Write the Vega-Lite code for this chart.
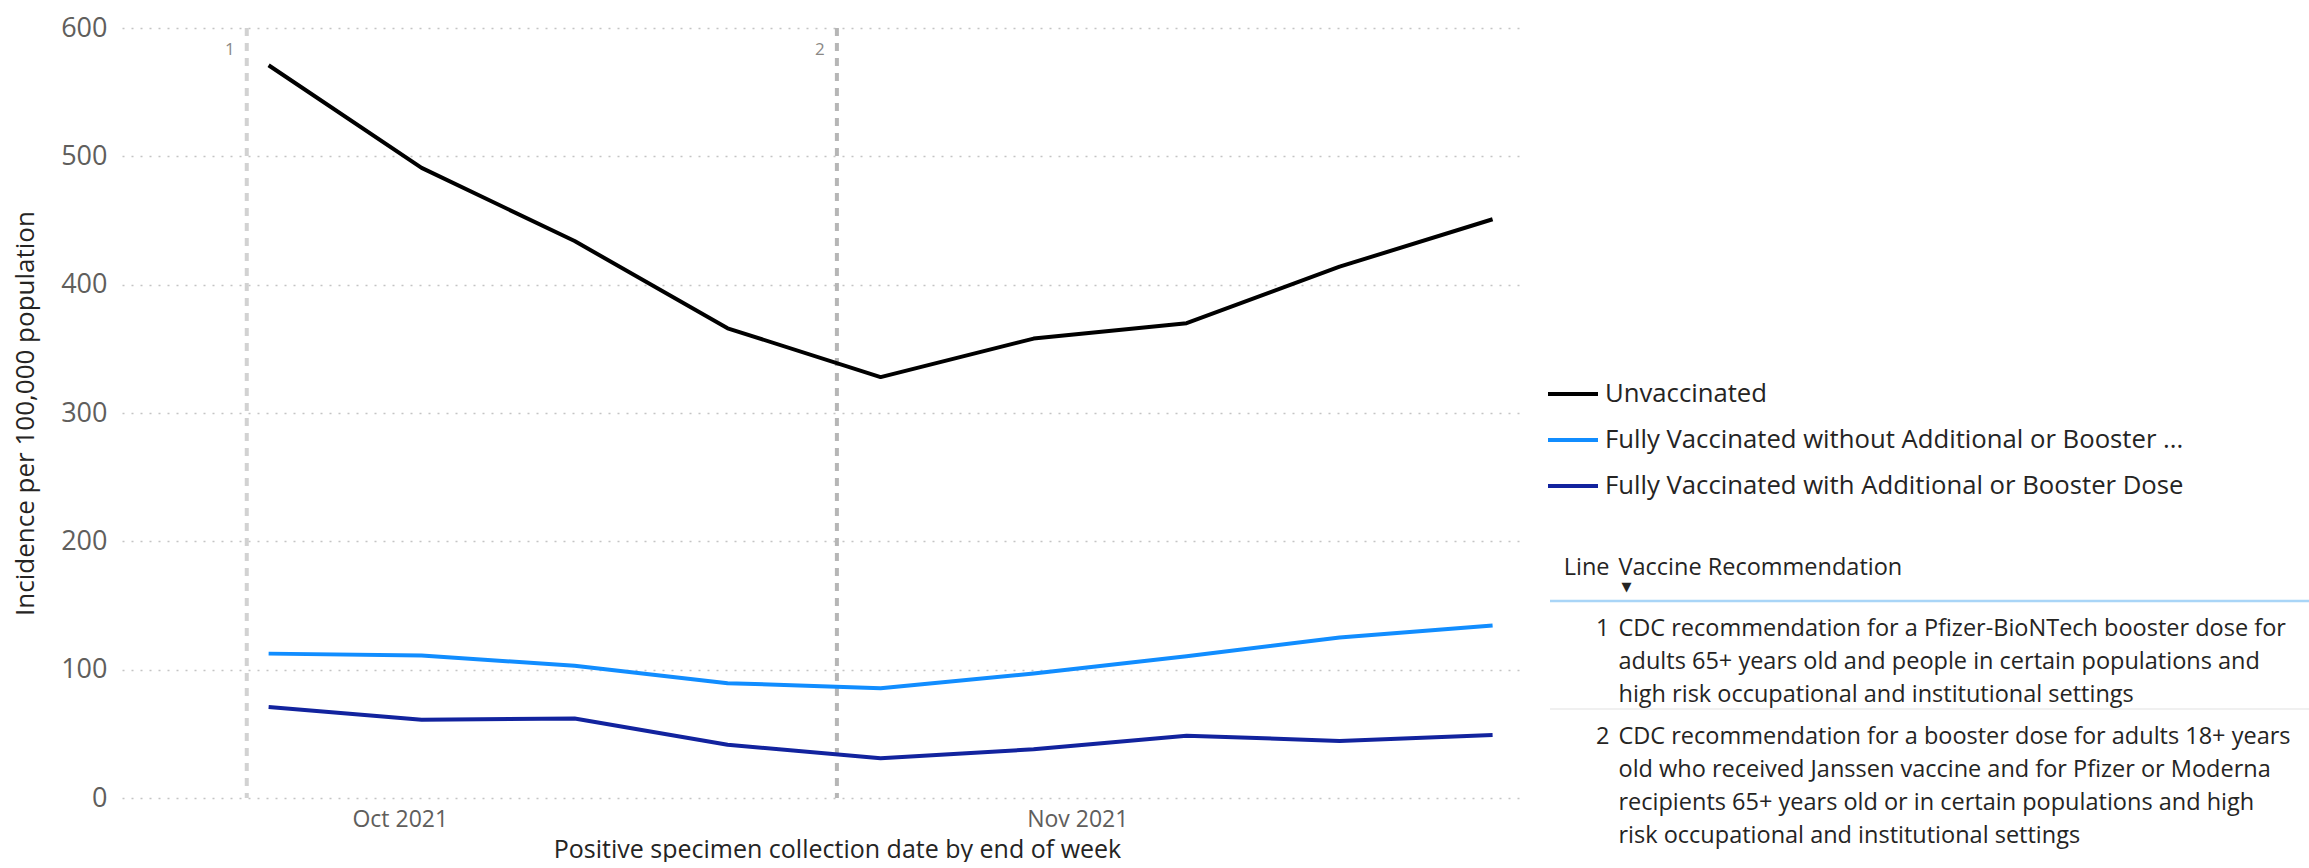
{
  "$schema": "https://vega.github.io/schema/vega-lite/v6.json",
  "padding": {"left": 12, "top": 14, "right": 0, "bottom": 0},
  "config": {
    "font": "Open Sans",
    "view": {"stroke": null},
    "concat": {"spacing": 29}
  },
  "datasets": {
    "incidence": [
      {"week": "2021-09-25", "status": "Unvaccinated", "rate": 571},
      {"week": "2021-10-02", "status": "Unvaccinated", "rate": 491},
      {"week": "2021-10-09", "status": "Unvaccinated", "rate": 434},
      {"week": "2021-10-16", "status": "Unvaccinated", "rate": 366},
      {"week": "2021-10-23", "status": "Unvaccinated", "rate": 328},
      {"week": "2021-10-30", "status": "Unvaccinated", "rate": 358},
      {"week": "2021-11-06", "status": "Unvaccinated", "rate": 370},
      {"week": "2021-11-13", "status": "Unvaccinated", "rate": 414},
      {"week": "2021-11-20", "status": "Unvaccinated", "rate": 451},
      {"week": "2021-09-25", "status": "Fully Vaccinated without Additional or Booster Dose", "rate": 112.5},
      {"week": "2021-10-02", "status": "Fully Vaccinated without Additional or Booster Dose", "rate": 111},
      {"week": "2021-10-09", "status": "Fully Vaccinated without Additional or Booster Dose", "rate": 103},
      {"week": "2021-10-16", "status": "Fully Vaccinated without Additional or Booster Dose", "rate": 89.5},
      {"week": "2021-10-23", "status": "Fully Vaccinated without Additional or Booster Dose", "rate": 85.5},
      {"week": "2021-10-30", "status": "Fully Vaccinated without Additional or Booster Dose", "rate": 97},
      {"week": "2021-11-06", "status": "Fully Vaccinated without Additional or Booster Dose", "rate": 110.5},
      {"week": "2021-11-13", "status": "Fully Vaccinated without Additional or Booster Dose", "rate": 125},
      {"week": "2021-11-20", "status": "Fully Vaccinated without Additional or Booster Dose", "rate": 134.5},
      {"week": "2021-09-25", "status": "Fully Vaccinated with Additional or Booster Dose", "rate": 71},
      {"week": "2021-10-02", "status": "Fully Vaccinated with Additional or Booster Dose", "rate": 61},
      {"week": "2021-10-09", "status": "Fully Vaccinated with Additional or Booster Dose", "rate": 62},
      {"week": "2021-10-16", "status": "Fully Vaccinated with Additional or Booster Dose", "rate": 41.5},
      {"week": "2021-10-23", "status": "Fully Vaccinated with Additional or Booster Dose", "rate": 31},
      {"week": "2021-10-30", "status": "Fully Vaccinated with Additional or Booster Dose", "rate": 38},
      {"week": "2021-11-06", "status": "Fully Vaccinated with Additional or Booster Dose", "rate": 48.5},
      {"week": "2021-11-13", "status": "Fully Vaccinated with Additional or Booster Dose", "rate": 44.5},
      {"week": "2021-11-20", "status": "Fully Vaccinated with Additional or Booster Dose", "rate": 49}
    ],
    "recommendations": [
      {"Line": 1, "date": "2021-09-24", "Vaccine Recommendation": "CDC recommendation for a Pfizer-BioNTech booster dose for\nadults 65+ years old and people in certain populations and\nhigh risk occupational and institutional settings"},
      {"Line": 2, "date": "2021-10-21", "Vaccine Recommendation": "CDC recommendation for a booster dose for adults 18+ years\nold who received Janssen vaccine and for Pfizer or Moderna\nrecipients 65+ years old or in certain populations and high\nrisk occupational and institutional settings"}
    ]
  },
  "resolve": {"legend": {"color": "independent"}},
  "hconcat": [
    {
      "width": 1397,
      "height": 770,
      "layer": [
        {
          "data": {"name": "recommendations"},
          "mark": {"type": "rule", "strokeDash": [8, 7], "strokeWidth": 4},
          "encoding": {
            "x": {"field": "date", "type": "temporal"},
            "stroke": {"condition": {"test": "datum.Line === 2", "value": "#b6b6b6"}, "value": "#d2d2d2"}
          }
        },
        {
          "data": {"name": "recommendations"},
          "mark": {"type": "text", "dx": -17, "dy": 22, "fontSize": 17, "color": "#8a8886", "align": "center", "baseline": "middle"},
          "encoding": {
            "x": {"field": "date", "type": "temporal"},
            "y": {"datum": 600, "type": "quantitative"},
            "text": {"field": "Line", "type": "nominal"}
          }
        },
        {
          "data": {"name": "incidence"},
          "mark": {"type": "line", "strokeWidth": 4, "strokeJoin": "round"},
          "encoding": {
            "x": {
              "field": "week",
              "type": "temporal",
              "scale": {
                "type": "utc",
                "domain": [
                  {"year": 2021, "month": 9, "date": 18, "hours": 7, "utc": true},
                  {"year": 2021, "month": 11, "date": 21, "hours": 5, "utc": true}
                ]
              },
              "axis": {
                "values": [
                  {"year": 2021, "month": 10, "date": 1, "utc": true},
                  {"year": 2021, "month": 11, "date": 1, "utc": true}
                ],
                "format": "%b %Y",
                "grid": false,
                "domain": false,
                "ticks": false,
                "labelFontSize": 23,
                "labelColor": "#605E5C",
                "labelPadding": 10,
                "title": "Positive specimen collection date by end of week",
                "titleFontSize": 25,
                "titleFontWeight": "normal",
                "titleColor": "#252423",
                "titlePadding": 6,
                "titleX": 715
              }
            },
            "y": {
              "field": "rate",
              "type": "quantitative",
              "scale": {"domain": [0, 600], "nice": false},
              "axis": {
                "values": [0, 100, 200, 300, 400, 500, 600],
                "grid": true,
                "gridDash": [2, 7],
                "gridColor": "#c4c4c4",
                "gridWidth": 1.5,
                "domain": false,
                "ticks": false,
                "labelFontSize": 27,
                "labelColor": "#605E5C",
                "labelPadding": 15,
                "title": "Incidence per 100,000 population",
                "titleFontSize": 26,
                "titleFontWeight": "normal",
                "titleColor": "#252423",
                "titlePadding": 22
              }
            },
            "color": {
              "field": "status",
              "type": "nominal",
              "scale": {
                "domain": ["Unvaccinated", "Fully Vaccinated without Additional or Booster Dose", "Fully Vaccinated with Additional or Booster Dose"],
                "range": ["#000000", "#118DFF", "#12239E"]
              },
              "legend": null
            }
          }
        }
      ]
    },
    {
      "width": 760,
      "height": 800,
      "layer": [
        {
          "data": {"name": "incidence"},
          "mark": {"type": "point", "opacity": 0},
          "encoding": {
            "color": {
              "field": "status",
              "type": "nominal",
              "legend": {
                "orient": "none",
                "legendX": 1,
                "legendY": 344,
                "title": null,
                "symbolType": "M-1.25,0H1.25",
                "symbolSize": 1600,
                "symbolStrokeWidth": 4,
                "symbolOpacity": 1,
                "labelFontSize": 25.7,
                "labelColor": "#252423",
                "labelLimit": 0,
                "labelOffset": 10,
                "rowPadding": 11,
                "labelExpr": "datum.label == 'Fully Vaccinated without Additional or Booster Dose' ? 'Fully Vaccinated without Additional or Booster ...' : datum.label"
              }
            }
          }
        },
        {
          "data": {"name": "recommendations"},
          "mark": {"type": "rule"},
          "encoding": {
            "y": {
              "field": "Line",
              "type": "ordinal",
              "bandPosition": 0,
              "scale": {"type": "band", "domain": [1, 2], "range": [573, 789], "paddingInner": 0, "paddingOuter": 0},
              "axis": null
            },
            "stroke": {"condition": {"test": "datum.Line === 1", "value": "#a9d5f7"}, "value": "#ebebeb"},
            "strokeWidth": {"condition": {"test": "datum.Line === 1", "value": 2.5}, "value": 1.5}
          }
        },
        {
          "data": {"values": [{"header": "Line"}]},
          "mark": {"type": "text", "align": "right", "baseline": "middle", "dy": -33, "fontSize": 23.5, "color": "#252423"},
          "encoding": {
            "x": {"field": "header", "type": "nominal", "scale": {"type": "point", "domain": ["Line", "Vaccine Recommendation"], "range": [55, 73]}, "axis": null},
            "y": {"datum": 1, "type": "ordinal", "bandPosition": 0},
            "text": {"field": "header"}
          }
        },
        {
          "data": {"values": [{"header": "Vaccine Recommendation"}]},
          "mark": {"type": "text", "align": "left", "baseline": "middle", "dy": -33, "fontSize": 23.5, "color": "#252423"},
          "encoding": {
            "x": {"field": "header", "type": "nominal"},
            "y": {"datum": 1, "type": "ordinal", "bandPosition": 0},
            "text": {"field": "header"}
          }
        },
        {
          "data": {"values": [{"header": "Vaccine Recommendation"}]},
          "mark": {"type": "text", "align": "center", "baseline": "middle", "dx": 8, "dy": -14, "fontSize": 13, "font": "DejaVu Sans", "color": "#252423"},
          "encoding": {
            "x": {"field": "header", "type": "nominal"},
            "y": {"datum": 1, "type": "ordinal", "bandPosition": 0},
            "text": {"value": "▼"}
          }
        },
        {
          "data": {"name": "recommendations"},
          "mark": {"type": "text", "align": "right", "baseline": "alphabetic", "dy": 35, "fontSize": 23.5, "color": "#252423"},
          "encoding": {
            "x": {"datum": "Line", "type": "nominal"},
            "y": {"field": "Line", "type": "ordinal", "bandPosition": 0},
            "text": {"field": "Line", "type": "nominal"}
          }
        },
        {
          "data": {"name": "recommendations"},
          "mark": {"type": "text", "align": "left", "baseline": "alphabetic", "dy": 35, "fontSize": 23.5, "lineHeight": 33, "lineBreak": "\n", "color": "#252423"},
          "encoding": {
            "x": {"datum": "Vaccine Recommendation", "type": "nominal"},
            "y": {"field": "Line", "type": "ordinal", "bandPosition": 0},
            "text": {"field": "Vaccine Recommendation", "type": "nominal"}
          }
        }
      ]
    }
  ]
}
